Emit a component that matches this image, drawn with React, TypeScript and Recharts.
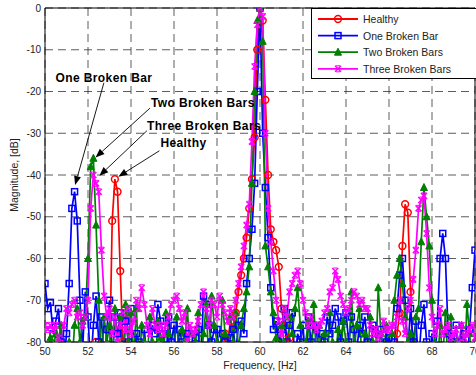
import React from 'react';
import { LineChart, Line, XAxis, YAxis, CartesianGrid, Legend, ReferenceLine } from 'recharts';

// spectrum bins, 0.125 Hz apart, 50..70 Hz
const freqs = Array.from({ length: 161 }, (_, i) => 50 + i * 0.125);

const healthy = [
  -88, -90, -86, -92, -87, -89, -91, -86,
  -90, -88, -92, -86, -89, -91, -87, -90,
  -88, -86, -83, -80, -88, -91, -86, -89,
  -86, -51, -41, -44, -63, -80, -88, -90,
  -89, -87, -91, -86, -90, -88, -92, -87,
  -90, -86, -89, -92, -87, -90, -88, -91,
  -87, -90, -86, -89, -91, -88, -86, -90,
  -89, -92, -87, -90, -86, -88, -91, -87,
  -90, -86, -88, -78, -80, -75, -77, -73,
  -68, -64, -60, -55, -48, -41, -31, -10,
  0, -3, -22, -40, -53, -56, -58, -62,
  -72, -76, -80, -79, -88, -84, -90, -86,
  -88, -91, -86, -90, -87, -89, -92, -86,
  -90, -88, -86, -91, -89, -87, -90, -92,
  -87, -90, -88, -86, -91, -89, -86, -90,
  -88, -92, -87, -90, -86, -89, -91, -88,
  -86, -90, -84, -78, -73, -57, -47, -49,
  -68, -86, -90, -87, -91, -88, -86, -90,
  -88, -91, -86, -90, -87, -89, -92, -86,
  -90, -88, -86, -91, -89, -87, -90, -88,
  -91,
];

const oneBar = [
  -66, -72, -70.5, -78, -75, -72, -80, -86,
  -78, -66, -48, -44, -51, -70, -82, -68,
  -74, -86, -76, -69, -80, -74, -86, -77,
  -70, -85, -74, -78, -73, -85, -75, -80,
  -72, -86, -78, -80, -85, -77, -86, -84,
  -76, -78, -71, -75, -78, -84, -74, -80,
  -76, -86, -77, -80, -85, -78, -82, -84,
  -79, -77, -85, -69, -71, -76, -80, -77,
  -77, -84, -78, -80, -86, -79, -77, -82,
  -76, -75, -78, -66, -60, -53, -42, -20,
  0, -30, -43, -55, -67, -77, -75, -80,
  -77, -72, -80, -76, -73, -85, -78, -80,
  -76, -85, -74, -80, -76, -77, -85, -78,
  -80, -74, -78, -76, -72, -74, -80, -75,
  -73, -80, -74, -77, -82, -76, -78, -74,
  -80, -85, -76, -78, -82, -77, -85, -80,
  -79, -86, -80, -72, -64, -60, -70, -82,
  -72, -80, -75, -85, -76, -71, -80, -85,
  -78, -86, -75, -60, -54, -60, -78, -85,
  -80, -76, -85, -80, -78, -85, -77, -67,
  -58,
];

const twoBars = [
  -86, -84, -79, -82, -78, -80, -76, -85,
  -86, -80, -86, -76, -72, -80, -75, -74,
  -60, -38, -36, -52, -70, -86, -74, -80,
  -76, -85, -72, -82, -74, -86, -71, -80,
  -73, -84, -72, -86, -76, -80, -85, -74,
  -80, -86, -75, -79, -85, -73, -78, -86,
  -82, -74, -86, -77, -80, -72, -85, -78,
  -80, -73, -85, -78, -71, -86, -69, -76,
  -80, -86, -70, -78, -85, -74, -80, -73,
  -82, -76, -72, -68, -62, -42, -20, -3,
  0, -8, -57, -62, -68, -73, -79, -86,
  -76, -80, -86, -74, -78, -72, -67, -76,
  -86, -80, -75, -86, -71, -84, -76, -86,
  -78, -86, -73, -80, -86, -77, -84, -75,
  -80, -86, -68, -82, -76, -72, -86, -78,
  -85, -74, -80, -86, -67, -78, -84, -76,
  -86, -78, -70, -64, -60, -66, -74, -80,
  -78, -86, -74, -72, -56, -43, -50, -57,
  -70, -80, -86, -76, -84, -73, -86, -74,
  -86, -80, -84, -76, -86, -71, -78, -86,
  -80,
];

const threeBars = [
  -76, -77, -76, -77, -76, -79, -86, -76,
  -72, -73, -71, -70, -74, -73, -76, -74,
  -70, -48, -40, -42, -44, -58, -69, -74,
  -72, -78, -74, -80, -76, -73, -77, -72,
  -78, -75, -70, -72, -67, -71, -76, -78,
  -72, -76, -77, -76, -78, -76, -74, -71,
  -70, -69, -72, -75, -73, -80, -76, -78,
  -77, -75, -71, -68, -72, -76, -70, -71,
  -74, -69, -71, -73, -75, -72, -74, -70,
  -66, -62, -57, -52, -47, -32, -14, -4,
  0, -2, -30, -48, -56, -63, -70, -75,
  -78, -72, -74, -68, -66, -64, -63, -66,
  -70, -73, -76, -74, -76, -77, -76, -75,
  -73, -72, -68, -67, -63, -65, -69, -71,
  -73, -72, -70, -68, -69, -71, -70, -72,
  -72, -76, -78, -77, -79, -78, -75, -77,
  -77, -76, -76, -74, -70, -75, -78, -72,
  -70, -65, -58, -48, -46, -45, -54, -67,
  -74, -78, -76, -72, -78, -77, -76, -79,
  -78, -77, -80, -76, -79, -78, -77, -76,
  -79,
];

const xTicks = [50, 52, 54, 56, 58, 60, 62, 64, 66, 68, 70];
const yTicks = [-80, -70, -60, -50, -40, -30, -20, -10, 0];

const series = [
  { key: 'healthy', name: 'Healthy', color: '#ff0000', marker: 'circle', values: healthy },
  { key: 'oneBar', name: 'One Broken Bar', color: '#0000ff', marker: 'square', values: oneBar },
  { key: 'twoBars', name: 'Two Broken Bars', color: '#008000', marker: 'triangle', values: twoBars },
  { key: 'threeBars', name: 'Three Broken Bars', color: '#ff00ff', marker: 'cross', values: threeBars },
];

const annotations = [
  { text: 'One Broken Bar', from: { x: 52.74, y: -17.9 }, to: { x: 51.4, y: -42.4 }, anchor: 'middle', dx: 0, dy: -1 },
  { text: 'Two Broken Bars', from: { x: 54.88, y: -24 }, to: { x: 52.35, y: -35.8 }, anchor: 'start', dx: 1, dy: -1 },
  { text: 'Three Broken Bars', from: { x: 54.74, y: -29.4 }, to: { x: 52.53, y: -40.2 }, anchor: 'start', dx: 0, dy: -1 },
  { text: 'Healthy', from: { x: 55.32, y: -34.2 }, to: { x: 53.41, y: -40.4 }, anchor: 'start', dx: 1, dy: -4 },
];

const data = freqs.map((f, i) => {
  const row: any = { f };
  series.forEach((s) => { row[s.key] = s.values[i]; });
  return row;
});

const FONT = '"Liberation Sans", Arial, Helvetica, sans-serif';

function Marker({ type, color, cx, cy }: any) {
  if (type === 'circle') {
    return <circle cx={cx} cy={cy} r={3.4} fill="none" stroke={color} strokeWidth={1.5} />;
  }
  if (type === 'square') {
    return <rect x={cx - 3} y={cy - 3} width={6} height={6} fill="none" stroke={color} strokeWidth={1.5} />;
  }
  if (type === 'triangle') {
    return <polygon points={`${cx},${cy - 4} ${cx - 3.5},${cy + 3} ${cx + 3.5},${cy + 3}`} fill={color} stroke={color} strokeWidth={1} />;
  }
  return (
    <g stroke={color} strokeWidth={1.5}>
      <line x1={cx - 3} y1={cy - 3} x2={cx + 3} y2={cy + 3} />
      <line x1={cx - 3} y1={cy + 3} x2={cx + 3} y2={cy - 3} />
      <line x1={cx - 2} y1={cy - 3} x2={cx + 2} y2={cy - 3} strokeWidth={1} />
      <line x1={cx - 2} y1={cy + 3} x2={cx + 2} y2={cy + 3} strokeWidth={1} />
    </g>
  );
}

const makeDot = (type: string, color: string) => (props: any) => {
  const { cx, cy, value, index } = props;
  if (cx == null || cy == null || value == null || value < -80.5) return <g key={`d-${index}`} />;
  return <Marker key={`d-${index}`} type={type} color={color} cx={cx} cy={cy} />;
};

function LegendBox() {
  return (
    <svg width={180} height={71} style={{ display: 'block' }}>
      <rect x={0.5} y={0.5} width={179} height={70} fill="#fff" stroke="#000" strokeWidth={1} />
      {series.map((s, i) => {
        const y = 11 + i * 16.6;
        return (
          <g key={s.key}>
            <line x1={7} y1={y} x2={47} y2={y} stroke={s.color} strokeWidth={1.8} />
            <Marker type={s.marker} color={s.color} cx={27} cy={y} />
            <text x={52} y={y + 4} fontSize={10.5} fill="#222" fontFamily={FONT}>{s.name}</text>
          </g>
        );
      })}
    </svg>
  );
}

function Arrow(props: any) {
  const { x1, y1, x2, y2, ann } = props;
  const ang = Math.atan2(y2 - y1, x2 - x1);
  const L = 9;
  const W = 3.5;
  const bx = x2 - L * Math.cos(ang);
  const by = y2 - L * Math.sin(ang);
  const nx = -Math.sin(ang);
  const ny = Math.cos(ang);
  return (
    <g>
      <line x1={x1} y1={y1} x2={bx} y2={by} stroke="#000" strokeWidth={0.9} />
      <polygon
        points={`${x2},${y2} ${bx + W * nx},${by + W * ny} ${bx - W * nx},${by - W * ny}`}
        fill="#000"
      />
      <text
        x={x1 + ann.dx}
        y={y1 + ann.dy}
        textAnchor={ann.anchor}
        fontSize={12}
        fontWeight="bold"
        letterSpacing={0.4}
        fill="#000"
        fontFamily={FONT}
      >
        {ann.text}
      </text>
    </g>
  );
}

function YLabel(props: any) {
  const { viewBox } = props;
  const x = viewBox.x + 17.5;
  const y = viewBox.y + viewBox.height / 2;
  return (
    <text x={x} y={y} transform={`rotate(-90 ${x} ${y})`} textAnchor="middle" fontSize={10.5} fill="#222" fontFamily={FONT}>
      Magnitude, [dB]
    </text>
  );
}

function XLabel(props: any) {
  const { viewBox } = props;
  const x = viewBox.x + viewBox.width / 2;
  return (
    <text x={x} y={369} textAnchor="middle" fontSize={10.5} fill="#222" fontFamily={FONT}>
      Frequency, [Hz]
    </text>
  );
}

export default function App() {
  return (
    <div style={{ position: 'absolute', left: 0, top: 0, width: 476, height: 375, overflow: 'hidden', background: '#fff' }}>
      <LineChart width={500} height={375} data={data} margin={{ top: 8, right: 25, left: 0, bottom: 0 }}>
        <CartesianGrid stroke="#333" strokeWidth={0.8} strokeDasharray="8 5" />
        <XAxis
          type="number"
          dataKey="f"
          domain={[50, 70]}
          ticks={xTicks}
          allowDataOverflow
          height={33}
          tickLine={false}
          tickSize={4}
          tickMargin={2}
          axisLine={{ stroke: '#000' }}
          tick={{ fontSize: 10, fill: '#222', fontFamily: FONT }}
          label={<XLabel />}
        />
        <YAxis
          type="number"
          domain={[-80, 0]}
          ticks={yTicks}
          allowDataOverflow
          width={45}
          tickLine={false}
          tickSize={3}
          tickMargin={1}
          axisLine={{ stroke: '#000' }}
          tick={{ fontSize: 10, fill: '#222', fontFamily: FONT }}
          label={<YLabel />}
        />
        <ReferenceLine y={0} stroke="#000" strokeWidth={1} />
        <ReferenceLine x={70} stroke="#000" strokeWidth={1} />
        {series.map((s) => (
          <Line
            key={s.key}
            type="linear"
            dataKey={s.key}
            name={s.name}
            stroke={s.color}
            strokeWidth={1.7}
            dot={makeDot(s.marker, s.color)}
            activeDot={false}
            isAnimationActive={false}
          />
        ))}
        {annotations.map((a) => (
          <ReferenceLine
            key={a.text}
            segment={[a.from, a.to]}
            stroke="#000"
            shape={(p: any) => <Arrow {...p} ann={a} />}
          />
        ))}
        <Legend
          layout="horizontal"
          verticalAlign="middle"
          align="center"
          content={<LegendBox />}
          wrapperStyle={{ left: 311, top: 8, right: 'auto', bottom: 'auto', width: 180, height: 71 }}
        />
      </LineChart>
    </div>
  );
}
